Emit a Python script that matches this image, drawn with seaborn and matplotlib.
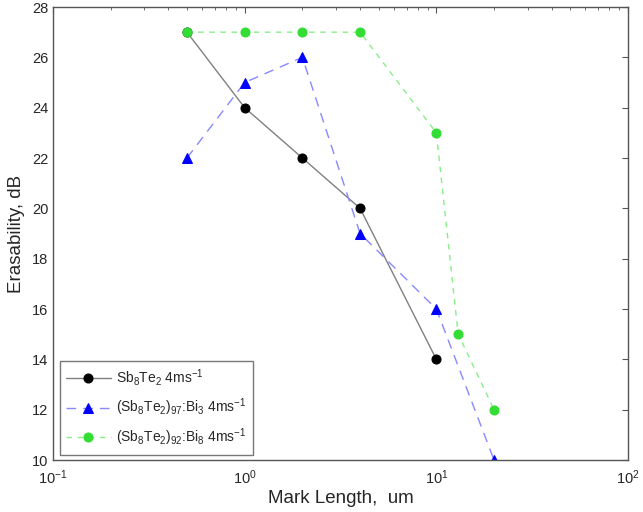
import matplotlib
matplotlib.use("Agg")
import matplotlib.pyplot as plt
import seaborn as sns
import pandas as pd
from matplotlib.ticker import LogLocator, FixedLocator

black_x = [0.5, 1, 2, 4, 10]
black_y = [27, 24, 22, 20, 14]
blue_x = [0.5, 1, 2, 4, 10, 20]
blue_y = [22, 25, 26, 19, 16, 10]
green_x = [0.5, 1, 2, 4, 10, 13, 20]
green_y = [27, 27, 27, 27, 23, 15, 12]
labels = [r'Sb$_8$Te$_2$ 4ms$^{-1}$',
          r'(Sb$_8$Te$_2$)$_{97}$:Bi$_3$ 4ms$^{-1}$',
          r'(Sb$_8$Te$_2$)$_{92}$:Bi$_8$ 4ms$^{-1}$']
yticks = [10, 12, 14, 16, 18, 20, 22, 24, 26, 28]

sns.set_style("white")
plt.rcParams['font.family'] = ['Liberation Sans', 'DejaVu Sans']
plt.rcParams['mathtext.fontset'] = 'custom'
plt.rcParams['mathtext.rm'] = 'Liberation Sans'
plt.rcParams['mathtext.it'] = 'Liberation Sans'

fig = plt.figure(figsize=(6.43, 5.12), dpi=100)
ax = fig.add_axes([53/643, 1-460/512, 575/643, 453/512])

series = [
    (black_x, black_y, labels[0], '#808080', 'black', 'o', '-', 6.5),
    (blue_x, blue_y, labels[1], '#8888ff', '#0000ff', '^', (0, (7, 5)), 7),
    (green_x, green_y, labels[2], '#88ee88', '#33dd33', 'o', (0, (4, 4)), 6.5),
]
for xs, ys, lab, lc, mc, mk, ls, ms in series:
    df = pd.DataFrame({'x': xs, 'y': ys})
    sns.lineplot(data=df, x='x', y='y', ax=ax, color=lc, linestyle=ls,
                 linewidth=1.0, marker=mk, markersize=ms,
                 markerfacecolor=mc, markeredgecolor=mc, label=lab,
                 estimator=None, sort=False)

ax.set_xscale('log')
ax.set_xlim(0.1, 100)
ax.set_ylim(10, 28)
ax.yaxis.set_major_locator(FixedLocator(yticks))
ax.xaxis.set_major_locator(LogLocator(base=10))
ax.xaxis.set_minor_locator(LogLocator(base=10, subs=range(2, 10)))
ax.tick_params(which='both', direction='in', top=True, right=True,
               color='#555555', labelsize=10.5)
ax.tick_params(axis='x', pad=6)
ax.tick_params(which='major', length=4)
ax.tick_params(which='minor', length=2)
for s in ax.spines.values():
    s.set_color('#555555')
    s.set_linewidth(1.0)
ax.set_xlabel('Mark Length,  um', fontsize=13.5, labelpad=2)
ax.set_ylabel('Erasability, dB', fontsize=13.5, labelpad=5)

leg = ax.legend(loc='lower left', bbox_to_anchor=(0.012, 0.012), fontsize=10,
                frameon=True, fancybox=False, edgecolor='#555555',
                borderaxespad=0, handlelength=3.2, handletextpad=0.4,
                labelspacing=0.6, borderpad=0.45)
leg.get_frame().set_linewidth(1.0)

fig.savefig('out.png', dpi=100)
